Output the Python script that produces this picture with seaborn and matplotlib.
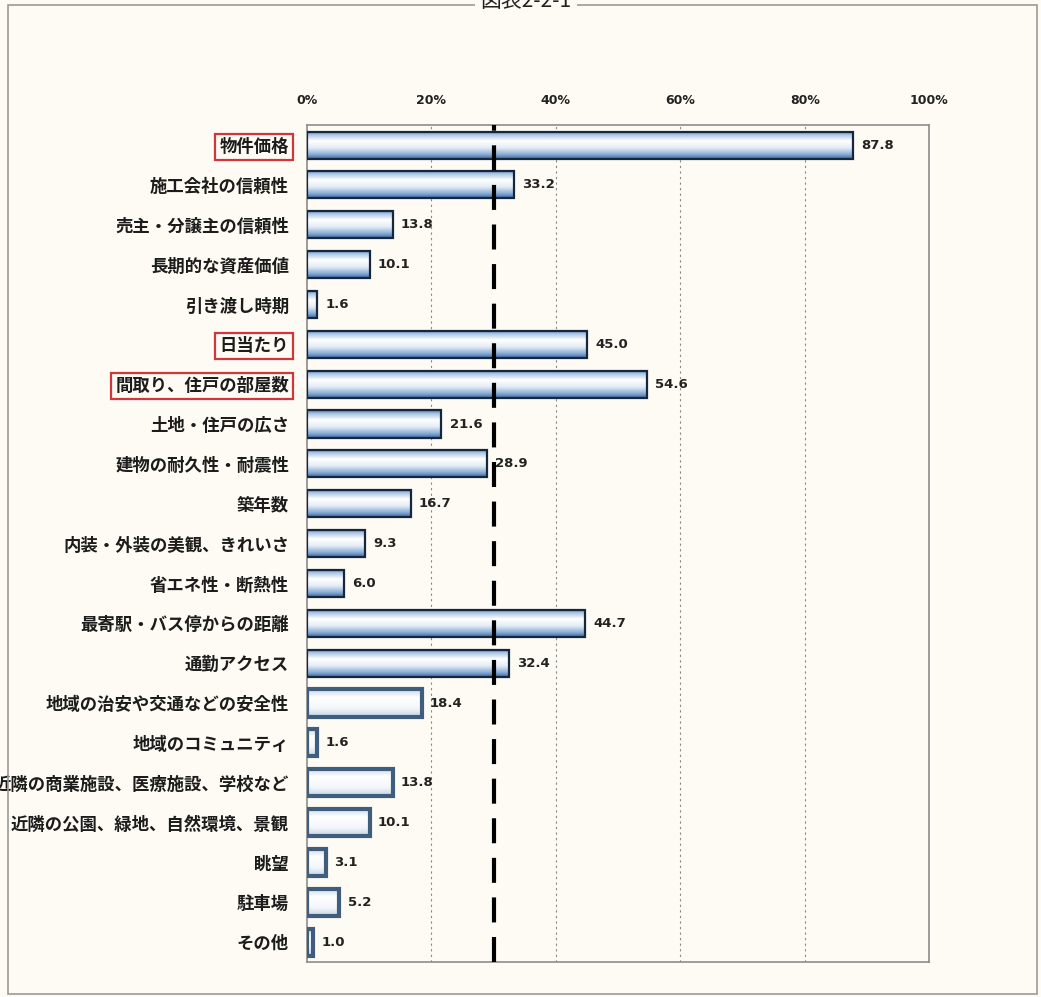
import numpy as np
import pandas as pd
import matplotlib
matplotlib.use('Agg')
import matplotlib.pyplot as plt
from matplotlib.patches import Rectangle
from matplotlib.colors import LinearSegmentedColormap
import seaborn as sns

# 住宅購入時に重視した項目（％）
items = ['物件価格', '施工会社の信頼性', '売主・分譲主の信頼性', '長期的な資産価値', '引き渡し時期',
         '日当たり', '間取り、住戸の部屋数', '土地・住戸の広さ', '建物の耐久性・耐震性', '築年数',
         '内装・外装の美観、きれいさ', '省エネ性・断熱性', '最寄駅・バス停からの距離', '通勤アクセス',
         '地域の治安や交通などの安全性', '地域のコミュニティ', '近隣の商業施設、医療施設、学校など',
         '近隣の公園、緑地、自然環境、景観', '眺望', '駐車場', 'その他']
values = [87.8, 33.2, 13.8, 10.1, 1.6, 45.0, 54.6, 21.6, 28.9, 16.7, 9.3, 6.0,
          44.7, 32.4, 18.4, 1.6, 13.8, 10.1, 3.1, 5.2, 1.0]
highlighted = ['物件価格', '日当たり', '間取り、住戸の部屋数']
ref_line = 30
x_ticks = [0, 20, 40, 60, 80, 100]

df = pd.DataFrame({'item': items, 'value': values})

bg = '#fdfbf4'
sns.set_theme(style='white')
plt.rcParams['font.family'] = ['Noto Sans CJK JP', 'DejaVu Sans']

fig = plt.figure(figsize=(10.41, 9.97), dpi=100, facecolor=bg)
ax = fig.add_axes([0.295, 0.035, 0.5975, 0.8395])
ax.set_facecolor(bg)

sns.barplot(data=df, x='value', y='item', orient='h', ax=ax, width=0.68,
            facecolor='none', edgecolor='#16263c', linewidth=1.6, zorder=3)

ax.set_xlim(0, 100)
ax.set_ylim(len(items) - 0.5, -0.5)

# グラデーション塗り
main_cmap = LinearSegmentedColormap.from_list('m', [(0, '#4c7db8'), (0.12, '#a9c4e2'), (0.35, '#ffffff'),
                                                    (0.6, '#e4ecf6'), (0.85, '#86aad3'), (1, '#3a69a6')])
pale_cmap = LinearSegmentedColormap.from_list('p', [(0, '#c9d8e8'), (0.3, '#ffffff'), (0.7, '#f3f6fa'),
                                                    (1, '#c3d3e4')])
grad = np.linspace(0, 1, 64).reshape(-1, 1)
for i, p in enumerate(ax.patches[:len(items)]):
    x0, y0, w, h = p.get_x(), p.get_y(), p.get_width(), p.get_height()
    cmap = main_cmap if i < 14 else pale_cmap
    im = ax.imshow(grad, cmap=cmap, aspect='auto', extent=(x0, x0 + w, y0 + h, y0),
                   zorder=2, interpolation='bilinear')
    im.set_clip_path(p)
    if i >= 14:
        p.set_edgecolor('#3f5d7c')
        p.set_linewidth(3)
    ax.text(x0 + w + 1.3, y0 + h / 2, f'{values[i]:.1f}', va='center', ha='left',
            fontsize=9.5, fontweight='bold', color='#222222', zorder=5, family='DejaVu Sans')
ax.set_xlim(0, 100)
ax.set_ylim(len(items) - 0.5, -0.5)

# グリッドと基準線
for xv in x_ticks[1:-1]:
    ax.axvline(xv, color='#888888', lw=0.8, ls=(0, (2, 3)), zorder=1)
ax.axvline(ref_line, color='black', lw=3, ls=(0, (6, 3.5)), zorder=4)

ax.xaxis.tick_top()
ax.set_xticks(x_ticks)
ax.set_xticklabels([f'{t}%' for t in x_ticks], fontsize=9, fontweight='bold', color='#222222',
                   family='DejaVu Sans')
ax.tick_params(axis='x', length=0, pad=13)
ax.tick_params(axis='y', length=0, pad=13)
ax.set_xlabel('')
ax.set_ylabel('')
for lab in ax.get_yticklabels():
    lab.set_fontsize(12.5)
    lab.set_fontweight('bold')
    lab.set_color('#1c1c1c')
    if lab.get_text() in highlighted:
        lab.set_bbox(dict(facecolor='none', edgecolor='#d2353a', linewidth=1.6, pad=3))

for s in ax.spines.values():
    s.set_color('#8c8c8c')
    s.set_linewidth(1.2)

# 外枠とタイトル
fig.add_artist(Rectangle((0.008, 0.003), 0.988, 0.992, transform=fig.transFigure,
                         fill=False, edgecolor='#9a9a9a', linewidth=1.2))
fig.text(0.505, 0.988, '図表2-2-1', ha='center', va='bottom', fontsize=15, color='#222222',
         bbox=dict(facecolor=bg, edgecolor='none', pad=4))

fig.savefig('out.png', dpi=100, facecolor=bg)
